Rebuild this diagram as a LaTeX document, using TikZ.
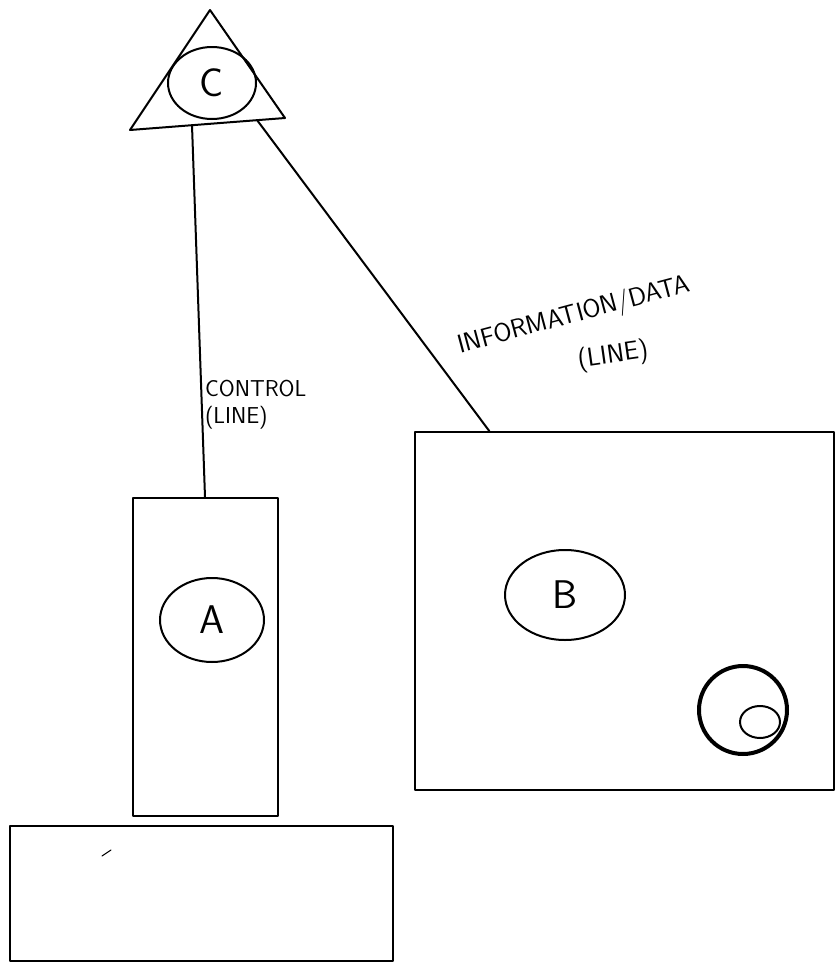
\documentclass[tikz,border=0pt]{standalone}
\usepackage{tikz}
\usetikzlibrary{positioning,shapes.geometric,calc}

\begin{document}
\begin{tikzpicture}[
        x=1pt, y=-1pt,
        line width=2pt, line join=round, line cap=round,
        box/.style={rectangle,draw,line width=2pt,inner sep=0pt},
        letter/.style={ellipse,draw,line width=2pt,inner sep=0pt,font=\sffamily\fontsize{40}{40}\selectfont},
        note/.style={font=\sffamily\fontsize{23}{27}\selectfont,inner sep=1pt},
        link/.style={line width=2pt}
    ]
        \useasboundingbox (0,0) rectangle (836,964);

        % triangle C
        \coordinate (apex) at (210,10);
        \coordinate (Cleft) at (130,130);
        \coordinate (Cright) at (285,118);
        \draw (apex) -- (Cleft) -- (Cright) -- cycle;
        \node[letter, minimum width=88, minimum height=72] (C) at (212,83) {C};
        \coordinate (Cctl) at ($(Cleft)!0.4!(Cright)$);
        \coordinate (Cinfo) at ($(Cleft)!0.82!(Cright)$);

        % boxes
        \node[box, minimum width=145, minimum height=318] (A) at (205,657) {};
        \node[letter, minimum width=104, minimum height=84] (circA) at (212,620) {A};
        \node[box, minimum width=419, minimum height=358] (B) at (624,611) {};
        \node[letter, minimum width=120, minimum height=90] (circB) at (565,595) {B};
        \node[box, minimum width=383, minimum height=135] (base) at (201,893) {};

        % small circle in B
        \node[circle, draw, line width=4pt, minimum width=88, minimum height=80] (ring) at (743,710) {};
        \node[ellipse, draw, line width=2pt, minimum width=40, minimum height=32] (dot) at (760,722) {};

        % connectors
        \coordinate (Binfo) at ($(B.north west)!0.18!(B.north east)$);
        \draw[link] (Cctl) -- (A.north);
        \draw[link] (Cinfo) -- (Binfo);

        \node[note, align=left, anchor=north west] (ctl) at (203,378) {CONTROL\\(LINE)};
        \node[note, rotate=15, font=\sffamily\fontsize{26}{28}\selectfont] (info) at (574,316) {INFORMATION/DATA};
        \node[note, rotate=8, font=\sffamily\fontsize{26}{28}\selectfont] (infoline) at (613,356) {(LINE)};

        % stray pen mark
        \draw[line width=1pt] (102,856) -- (111,850);
    \end{tikzpicture}
\end{document}
